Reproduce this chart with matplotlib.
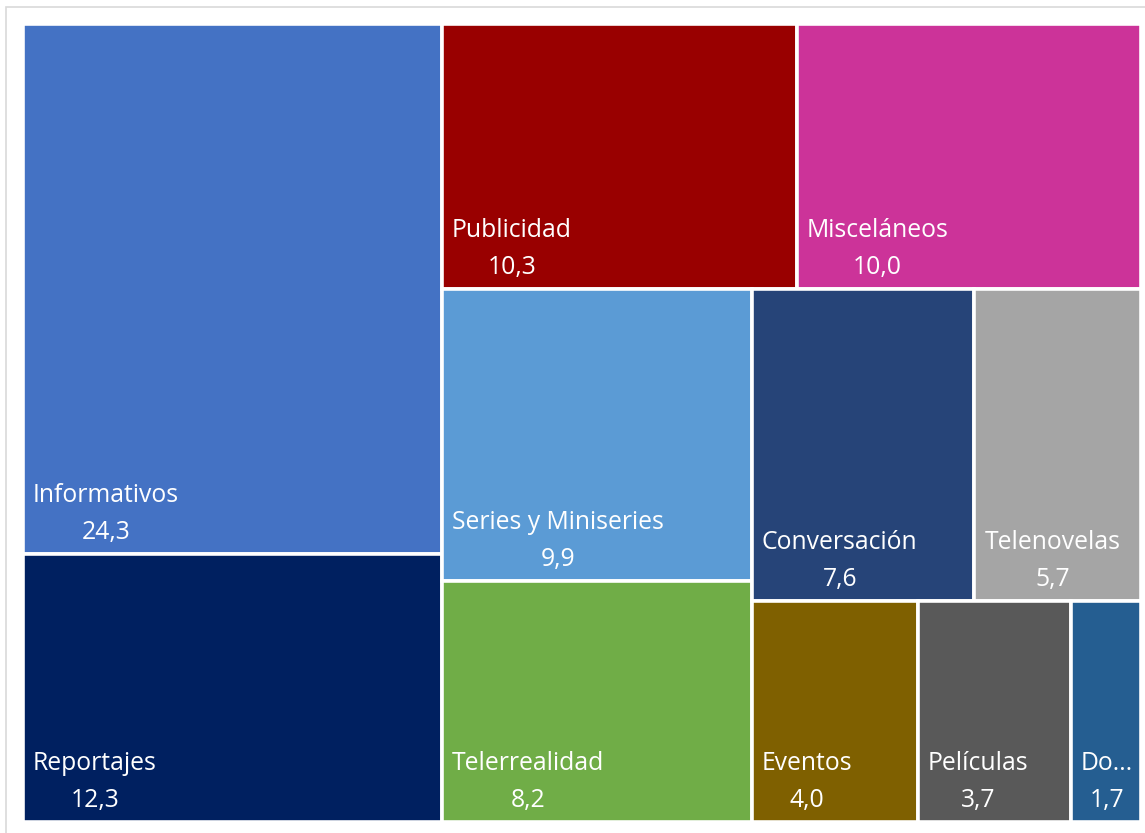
import matplotlib
matplotlib.use("Agg")
import matplotlib.pyplot as plt
from matplotlib.patches import Rectangle

categories = ["Informativos", "Reportajes", "Publicidad", "Misceláneos",
              "Series y Miniseries", "Telerrealidad", "Conversación",
              "Telenovelas", "Eventos", "Películas", "Documentales"]
values = [24.3, 12.3, 10.3, 10.0, 9.9, 8.2, 7.6, 5.7, 4.0, 3.7, 1.7]
colors = ["#4472C4", "#002060", "#990000", "#CC3399", "#5B9BD5", "#70AD47",
          "#264478", "#A5A5A5", "#7F6000", "#595959", "#255E91"]

W, H = 1118.0, 798.0


def worst(row, length, scale):
    s = sum(row) * scale
    w = s / length
    res = 0
    for r in row:
        h = r * scale / w
        res = max(res, max(w / h, h / w))
    return res


def layout_row(row, x, y, dx, dy, scale, out):
    s = sum(row) * scale
    if dx >= dy:
        w = s / dy
        yy = y
        for r in row:
            h = r * scale / w
            out.append((x, yy, w, h))
            yy += h
        return x + w, y, dx - w, dy
    else:
        h = s / dx
        xx = x
        for r in row:
            w = r * scale / h
            out.append((xx, y, w, h))
            xx += w
        return x, y + h, dx, dy - h


def squarify(vals, x, y, dx, dy):
    scale = dx * dy / sum(vals)
    out = []
    rest = list(vals)
    while rest:
        length = min(dx, dy)
        row = [rest.pop(0)]
        while rest and worst(row + [rest[0]], length, scale) <= worst(row, length, scale):
            row.append(rest.pop(0))
        x, y, dx, dy = layout_row(row, x, y, dx, dy, scale, out)
    return out


rects = squarify(values, 0, 0, W, H)

fig = plt.figure(figsize=(11.45, 8.33), dpi=100)
fig.patches.append(Rectangle((6 / 1145, -0.1), 1.2, (833 - 7) / 833 + 0.1,
                             transform=fig.transFigure, fill=False,
                             edgecolor="#D9D9D9", linewidth=1.2))
ax = fig.add_axes([23 / 1145, 11 / 833, W / 1145, H / 833])
ax.set_xlim(0, W)
ax.set_ylim(H, 0)
ax.axis("off")

font = "Open Sans"
fs = 17.8
fig.canvas.draw()
renderer = fig.canvas.get_renderer()

for (x, y, w, h), name, val, col in zip(rects, categories, values, colors):
    ax.add_patch(Rectangle((x, y), w, h, facecolor=col, edgecolor="white",
                           linewidth=2.6))
    label = name
    t = ax.text(x + 10, y + h - 52, label, color="white", fontsize=fs,
                family=font, ha="left", va="baseline")
    maxw = w - 14
    bb = t.get_window_extent(renderer)
    while bb.width > maxw and len(label) > 1:
        base = label.rstrip(".")
        label = base[:-1] + "..."
        t.set_text(label)
        bb = t.get_window_extent(renderer)
    cx = x + 10 + bb.width / 2
    ax.text(cx, y + h - 15, f"{val:.1f}".replace(".", ","), color="white",
            fontsize=fs, family=font, ha="center", va="baseline")

fig.savefig("out.png", dpi=100)
